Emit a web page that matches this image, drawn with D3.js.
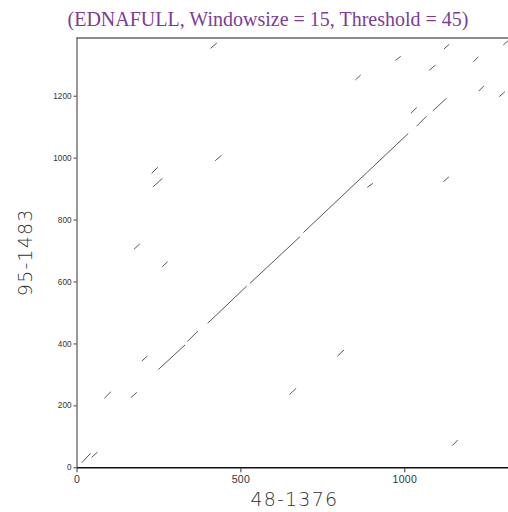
<!DOCTYPE html>
<html>
<head>
<meta charset="utf-8">
<script src="https://cdn.jsdelivr.net/npm/d3@7"></script>
<style>
  html, body { margin: 0; padding: 0; background: #fff; overflow: hidden; }
  svg { display: block; }
</style>
</head>
<body>
<div id="chart"></div>
<script>
// ---- data (sequence coordinates: [x1, y1, x2, y2]) ----
const title = "(EDNAFULL, Windowsize = 15, Threshold = 45)";
const xLabel = "48-1376";
const yLabel = "95-1483";
const xLength = 1329;   // 48..1376
const yLength = 1389;   // 95..1483
const xTicks = [0, 500, 1000];
const yTicks = [0, 200, 400, 600, 800, 1000, 1200];

// main diagonal match runs
const diagonalRuns = [
  [250, 316, 331, 395],
  [338, 406, 370, 440],
  [400, 465, 519, 585],
  [529, 594, 682, 745],
  [692, 758, 1012, 1078],
  [1038, 1102, 1068, 1134],
  [1087, 1151, 1129, 1192],
  [1302, 1364, 1329, 1389]
];

// other short match runs
const otherRuns = [
  [409, 1353, 428, 1370],
  [423, 990, 443, 1008],
  [229, 949, 248, 969],
  [234, 906, 262, 933],
  [175, 704, 193, 721],
  [262, 648, 278, 664],
  [199, 343, 216, 359],
  [85, 223, 105, 244],
  [166, 225, 184, 242],
  [16, 15, 43, 45],
  [46, 32, 64, 49],
  [650, 235, 670, 255],
  [796, 359, 816, 379],
  [1146, 70, 1163, 88],
  [1121, 1351, 1137, 1366],
  [973, 1314, 989, 1327],
  [1211, 1310, 1226, 1326],
  [1076, 1282, 1095, 1299],
  [851, 1251, 867, 1267],
  [1227, 1215, 1243, 1232],
  [1290, 1197, 1307, 1213],
  [1020, 1143, 1038, 1162],
  [887, 904, 904, 917],
  [1119, 922, 1136, 938]
];

// ---- layout ----
const W = 508, H = 512;
const mLeft = 76.5, mTop = 37.2, mBottom = 467.3;
const plotW = xLength * 0.3278;

const svg = d3.select("#chart").append("svg")
  .attr("width", W).attr("height", H);

const x = d3.scaleLinear().domain([0, xLength]).range([mLeft, mLeft + plotW]);
const y = d3.scaleLinear().domain([0, yLength]).range([mBottom, mTop]);

// title
svg.append("text")
  .attr("x", 268).attr("y", 26)
  .attr("text-anchor", "middle")
  .attr("font-family", "'Liberation Serif', 'Times New Roman', serif")
  .attr("font-size", 20)
  .attr("fill", "#7d3c98")
  .text(title);

// top frame line
svg.append("line")
  .attr("x1", x(0)).attr("x2", x(xLength))
  .attr("y1", y(yLength) + 0.8).attr("y2", y(yLength) + 0.8)
  .attr("stroke", "#666").attr("stroke-width", 1.6);

// match runs
const runs = diagonalRuns.concat(otherRuns);
svg.append("g").selectAll("line").data(runs).join("line")
  .attr("x1", d => x(d[0])).attr("y1", d => y(d[1]))
  .attr("x2", d => x(d[2])).attr("y2", d => y(d[3]))
  .attr("stroke", "#444")
  .attr("stroke-width", 0.9)
  .attr("stroke-linecap", "butt");

// y axis
const yAxis = svg.append("g")
  .attr("transform", `translate(${mLeft},0)`)
  .call(d3.axisLeft(y).tickValues(yTicks).tickFormat(d3.format("d"))
    .tickSize(3).tickPadding(2).tickSizeOuter(0));
yAxis.select(".domain").attr("stroke", "#555").attr("stroke-width", 1.2);
yAxis.selectAll(".tick line").attr("stroke", "#444");
yAxis.selectAll(".tick text")
  .attr("font-family", "'Liberation Sans', Arial, sans-serif")
  .attr("font-size", 8.2).attr("fill", "#333");

// x axis
const xAxis = svg.append("g")
  .attr("transform", `translate(0,${mBottom})`)
  .call(d3.axisBottom(x).tickValues(xTicks).tickFormat(d3.format("d"))
    .tickSize(5).tickPadding(3).tickSizeOuter(0));
xAxis.select(".domain").attr("stroke", "#111").attr("stroke-width", 1.4);
xAxis.selectAll(".tick line").attr("stroke", "#333");
xAxis.selectAll(".tick text")
  .attr("font-family", "'Liberation Sans', Arial, sans-serif")
  .attr("font-size", 10.5).attr("fill", "#333")
  .attr("letter-spacing", 0.3);

// axis titles
svg.append("text")
  .attr("x", mLeft + plotW / 2).attr("y", 505.5)
  .attr("text-anchor", "middle")
  .attr("font-family", "'DejaVu Sans', sans-serif")
  .attr("font-weight", 200)
  .attr("font-size", 19)
  .attr("letter-spacing", 1.2)
  .attr("fill", "#333")
  .text(xLabel);

svg.append("text")
  .attr("transform", `translate(32,${(mTop + mBottom) / 2}) rotate(-90)`)
  .attr("text-anchor", "middle")
  .attr("font-family", "'DejaVu Sans', sans-serif")
  .attr("font-weight", 200)
  .attr("font-size", 19)
  .attr("letter-spacing", 1.2)
  .attr("fill", "#333")
  .text(yLabel);
</script>
</body>
</html>
